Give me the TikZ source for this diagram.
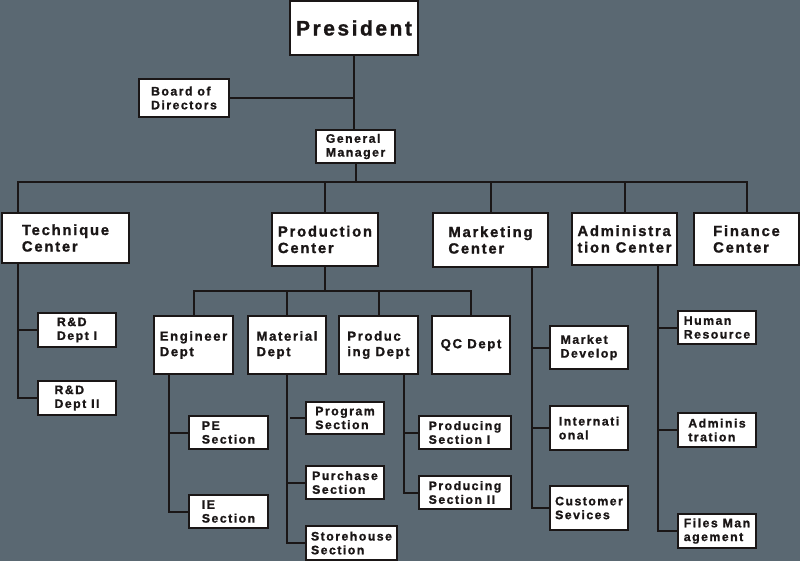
\documentclass[tikz,border=0pt]{standalone}
\usepackage{fontspec}
\setmainfont{Liberation Sans}[LetterSpace=12, BoldFeatures={FakeBold=1.2}]
\definecolor{slate}{RGB}{90,104,114}
\definecolor{ink}{RGB}{26,22,22}

\begin{document}
\begin{tikzpicture}[x=1pt, y=-1pt,
    box/.style 2 args={draw=ink, line width=2pt, fill=white, text=ink, align=left,
        inner sep=1pt, minimum width=#1, minimum height=#2},
    small/.style={font=\fontsize{12.3}{13.8}\selectfont\bfseries},
    mid/.style={font=\fontsize{13.2}{15.5}\selectfont\bfseries},
    big/.style={font=\fontsize{14.8}{16.5}\selectfont\bfseries},
    link/.style={draw=ink, line width=2pt}]
    \useasboundingbox (0,0) rectangle (800,561);
    \fill[slate] (0,0) rectangle (800,561);

    % Top level
    \node[box={128}{54}, font=\fontsize{21}{24}\selectfont\bfseries] (pres) at (354,28) {President};
    \node[box={90}{38}, small] (board) at (184,98) {Board of\\Directors};
    \node[box={79}{33}, small] (gm) at (355.5,146.5) {General\\Manager};

    % Centers
    \node[box={127}{50}, big] (tech) at (65.5,238) {Technique\\Center};
    \node[box={106}{53}, big] (prod) at (325,239.5) {Production\\Center};
    \node[box={115}{54}, big] (mkt) at (490.5,240) {Marketing\\Center};
    \node[box={105}{52}, big] (adm) at (624.5,239) {Administra\\tion Center};
    \node[box={105}{52}, big] (fin) at (746.5,239) {Finance\\Center};

    % Technique center
    \node[box={78}{34}, small] (rd1) at (77,330) {R\&D\\Dept I};
    \node[box={78}{34}, small] (rd2) at (77,398) {R\&D\\Dept II};

    % Production center departments
    \node[box={79}{58}, mid] (eng) at (193.5,345) {Engineer\\Dept};
    \node[box={78}{58}, mid] (mat) at (287,345) {Material\\Dept};
    \node[box={79}{58}, mid] (pdd) at (378.5,345) {Produc\\ing Dept};
    \node[box={78}{58}, mid] (qc) at (471,345) {QC Dept};

    % Sections
    \node[box={79}{33}, small] (pe) at (228.5,432.5) {PE\\Section};
    \node[box={79}{33}, small] (ie) at (228.5,511.5) {IE\\Section};
    \node[box={78}{32}, small] (prg) at (345,418) {Program\\Section};
    \node[box={78}{33}, small] (pur) at (345,482.5) {Purchase\\Section};
    \node[box={91}{34}, small] (sto) at (351.5,543) {Storehouse\\Section};
    \node[box={92}{33}, small] (ps1) at (465,432.5) {Producing\\Section I};
    \node[box={92}{33}, small] (ps2) at (465,492.5) {Producing\\Section II};

    % Marketing center
    \node[box={78}{43}, small] (mdv) at (589,347.5) {Market\\Develop};
    \node[box={78}{44}, small] (intl) at (589,428) {Internati\\onal};
    \node[box={78}{44}, small] (cus) at (589,508) {Customer\\Sevices};

    % Administration center
    \node[box={78}{33}, small] (hr) at (717,327.5) {Human\\Resource};
    \node[box={78}{34}, small] (adm2) at (717,430) {Adminis\\tration};
    \node[box={78}{34}, small] (files) at (717,531) {Files Man\\agement};

    % Buses and spines
    \coordinate (bus) at (0,182);
    \coordinate (pbus) at (0,291);
    \coordinate (techspine) at ([xshift=17]tech.south west);
    \coordinate (engspine) at ([xshift=16]eng.south west);
    \coordinate (pddspine) at ([xshift=-15]pdd.south east);
    \coordinate (mktspine) at ([xshift=-17]mkt.south east);
    \coordinate (admspine) at ([xshift=-20]adm.south east);

    % Connections
    \draw[link] (pres.south) -- (pres.south |- gm.north);
    \draw[link] (board.east) -- (board.east -| pres.south);
    \draw[link] (gm.south) -- (gm.south |- bus);
    \draw[link] ([xshift=17]tech.north west) |- (fin.north |- bus) -- (fin.north);
    \foreach \c in {prod,mkt,adm}
        \draw[link] (\c.north) -- (\c.north |- bus);

    \draw[link] (techspine) |- (rd2.west);
    \draw[link] (rd1.west) -- (rd1.west -| techspine);

    \draw[link] (prod.south) -- (prod.south |- pbus);
    \draw[link] (eng.north) |- (qc.north |- pbus) -- (qc.north);
    \foreach \d in {mat,pdd}
        \draw[link] (\d.north) -- (\d.north |- pbus);

    \draw[link] (engspine) |- (ie.west);
    \draw[link] (pe.west) -- (pe.west -| engspine);
    \draw[link] (mat.south) |- (sto.west);
    \draw[link] (pur.west) -- (pur.west -| mat.south);
    \draw[link] (prg.west) -- ++(-15,0);
    \draw[link] (pddspine) |- (ps2.west);
    \draw[link] (ps1.west) -- (ps1.west -| pddspine);

    \draw[link] (mktspine) |- (cus.west);
    \foreach \m in {mdv,intl}
        \draw[link] (\m.west) -- (\m.west -| mktspine);
    \draw[link] (admspine) |- (files.west);
    \foreach \a in {hr,adm2}
        \draw[link] (\a.west) -- (\a.west -| admspine);
\end{tikzpicture}
\end{document}
